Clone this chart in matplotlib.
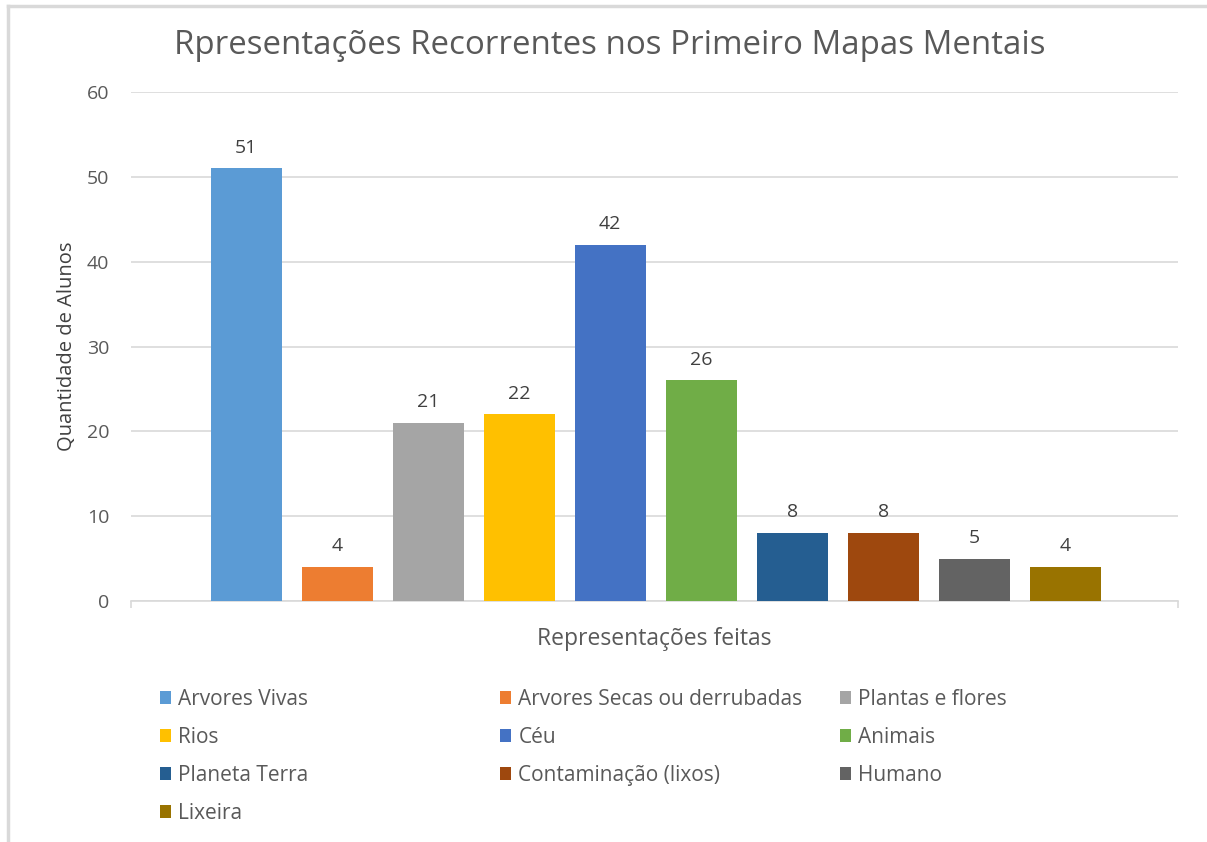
import matplotlib
matplotlib.use("Agg")
import matplotlib.pyplot as plt
from matplotlib.lines import Line2D
from matplotlib.patches import Patch

categories = ["Arvores Vivas", "Arvores Secas ou derrubadas", "Plantas e flores",
              "Rios", "Céu", "Animais", "Planeta Terra", "Contaminação (lixos)",
              "Humano", "Lixeira"]
values = [51, 4, 21, 22, 42, 26, 8, 8, 5, 4]
colors = ["#5B9BD5", "#ED7D31", "#A5A5A5", "#FFC000", "#4472C4", "#70AD47",
          "#255E91", "#9E480E", "#636363", "#997300"]
yticks = [0, 10, 20, 30, 40, 50, 60]

title = "Rpresentações Recorrentes nos Primeiro Mapas Mentais"
xlabel = "Representações feitas"
ylabel = "Quantidade de Alunos"

plt.rcParams['font.family'] = ['Open Sans', 'DejaVu Sans']
TXT = "#595959"

W, H = 1207, 842
fig = plt.figure(figsize=(W / 100, H / 100), dpi=100)
ax = fig.add_axes([131 / W, 1 - 601 / H, (1178 - 131) / W, (601 - 92) / H])

xs = list(range(len(values)))
bars = ax.bar(xs, values, width=0.78, color=colors, zorder=3)
for x, v in zip(xs, values):
    ax.annotate(str(v), (x, v), xytext=(0, 8.5), textcoords="offset points",
                ha="center", va="bottom", fontsize=14, color="#404040")

ax.set_xlim(-1.265, 10.24)
ax.set_ylim(0, 60)
ax.set_yticks(yticks)
ax.yaxis.grid(True, color="#D9D9D9", linewidth=1.2, zorder=0)
ax.set_axisbelow(True)
for s in ["top", "right", "left"]:
    ax.spines[s].set_visible(False)
ax.spines["bottom"].set_color("#D9D9D9")
ax.spines["bottom"].set_linewidth(1.2)
ax.tick_params(axis="y", length=0, labelsize=14, labelcolor=TXT, pad=15.5)
ax.set_xticks([-1.265, 10.24])
ax.set_xticklabels(["", ""])
ax.tick_params(axis="x", length=5, width=1.2, color="#D9D9D9")

ax.set_ylabel(ylabel, fontsize=14.5, color="#404040", labelpad=7)
ax.set_xlabel(xlabel, fontsize=16.5, color=TXT, labelpad=10)
fig.text(610 / W, 1 - 46 / H, title, ha="center", va="center",
         fontsize=23.8, color=TXT)

# legend: three equal-width columns, row-major order
handles = [Patch(facecolor=c, edgecolor="none") for c in colors]
col_x = [160, 500, 840]
for col in range(3):
    idx = list(range(col, len(categories), 3))
    leg = fig.legend([handles[i] for i in idx], [categories[i] for i in idx],
                     loc="upper left", bbox_to_anchor=(col_x[col] / W, 1 - 689 / H),
                     frameon=False, fontsize=15, labelcolor=TXT,
                     handlelength=0.55, handleheight=0.55, handletextpad=0.33,
                     labelspacing=0.81, borderaxespad=0, borderpad=0)

# outer frame (top and left edges)
fig.add_artist(Line2D([8 / W, 8 / W], [0, 1 - 6 / H], color="#D9D9D9", lw=2.5))
fig.add_artist(Line2D([8 / W, 1], [1 - 6 / H, 1 - 6 / H], color="#D9D9D9", lw=2.5))

fig.savefig("out.png", dpi=100)
